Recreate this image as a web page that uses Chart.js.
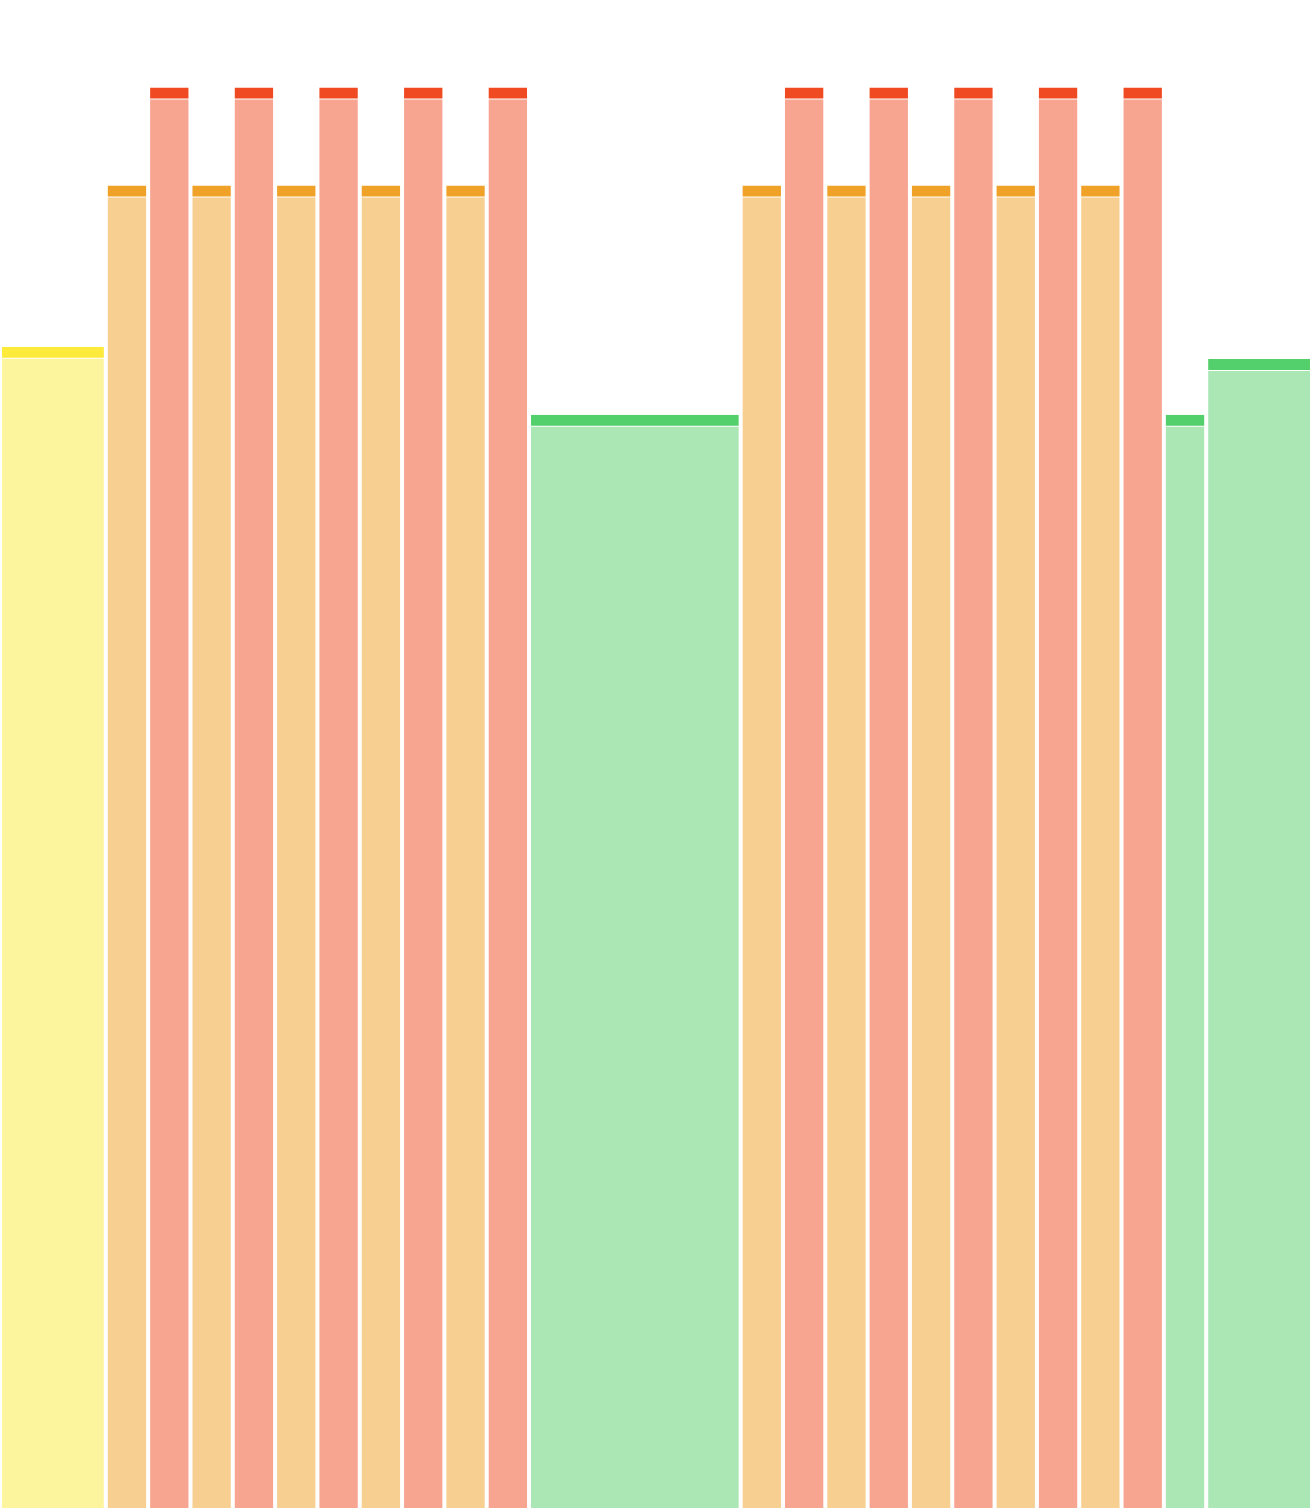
<!DOCTYPE html>
<html lang="en">
<head>
<meta charset="UTF-8">
<title>Skyline bars</title>
<script src="https://cdn.jsdelivr.net/npm/chart.js"></script>
<style>
  html, body { margin: 0; padding: 0; background: #fff; }
  #wrap { position: relative; width: 1312px; height: 1508px; }
</style>
</head>
<body>
<div id="wrap"><canvas id="skyline"></canvas></div>

<script>
// bar centres on a 0..31 unit x axis, their widths in units, and heights (0..100)
const centers = [1.25, 3, 4, 5, 6, 7, 8, 9, 10, 11, 12, 15, 18, 19, 20, 21, 22, 23, 24, 25, 26, 27, 28, 29.75];
const widths  = [2.5, 1, 1, 1, 1, 1, 1, 1, 1, 1, 1, 5, 1, 1, 1, 1, 1, 1, 1, 1, 1, 1, 1, 2.5];
const values  = [77.0, 87.7, 94.2, 87.7, 94.2, 87.7, 94.2, 87.7, 94.2, 87.7, 94.2, 72.5,
                 87.7, 94.2, 87.7, 94.2, 87.7, 94.2, 87.7, 94.2, 87.7, 94.2, 72.5, 76.2];
const groups  = ['yellow', 'orange', 'red', 'orange', 'red', 'orange', 'red', 'orange', 'red', 'orange', 'red', 'green',
                 'orange', 'red', 'orange', 'red', 'orange', 'red', 'orange', 'red', 'orange', 'red', 'green', 'green'];

const capColors  = { yellow: '#fdea3a', orange: '#f0a127', red: '#f04a23', green: '#53cf6c' };
const bodyColors = { yellow: '#fdf59d', orange: '#f7d091', red: '#f7a591', green: '#abe7b5' };

// one set of layers for every bar width (barPercentage is per dataset)
const widthClasses = [...new Set(widths)];

function pointsFor(w) {
    const pts = [];
    centers.forEach((c, i) => { if (widths[i] === w) pts.push({ x: c, y: values[i], g: groups[i] }); });
    return pts;
}

const datasets = [];
// body layer on top: light fill, transparent top band lets the cap show through
widthClasses.forEach(w => {
    const pts = pointsFor(w);
    datasets.push({
        data: pts,
        backgroundColor: pts.map(p => bodyColors[p.g]),
        borderColor: 'rgba(0,0,0,0)',
        borderWidth: { top: 12, left: 2, right: 2, bottom: 0 },
        barPercentage: w
    });
});
// white layer: gives the thin line between cap and body
widthClasses.forEach(w => {
    const pts = pointsFor(w);
    datasets.push({
        data: pts,
        backgroundColor: '#ffffff',
        borderColor: 'rgba(0,0,0,0)',
        borderWidth: { top: 11, left: 0, right: 0, bottom: 0 },
        barPercentage: w
    });
});
// cap layer at the bottom: dark fill with white sides
widthClasses.forEach(w => {
    const pts = pointsFor(w);
    datasets.push({
        data: pts,
        backgroundColor: pts.map(p => capColors[p.g]),
        borderColor: '#ffffff',
        borderWidth: { top: 0, left: 2, right: 2, bottom: 0 },
        barPercentage: w
    });
});

new Chart(document.getElementById('skyline'), {
    type: 'bar',
    data: { datasets },
    options: {
        responsive: true,
        maintainAspectRatio: false,
        animation: false,
        layout: { padding: 0 },
        datasets: {
            bar: {
                grouped: false,
                categoryPercentage: 1,
                inflateAmount: 0,
                borderSkipped: false
            }
        },
        plugins: {
            legend: { display: false },
            tooltip: { enabled: false }
        },
        scales: {
            x: {
                type: 'linear',
                display: false,
                offset: false,
                grid: { offset: false },
                min: 0,
                max: 31,
                ticks: { stepSize: 1 }
            },
            y: {
                display: false,
                min: 0,
                max: 100
            }
        }
    }
});
</script>
</body>
</html>
